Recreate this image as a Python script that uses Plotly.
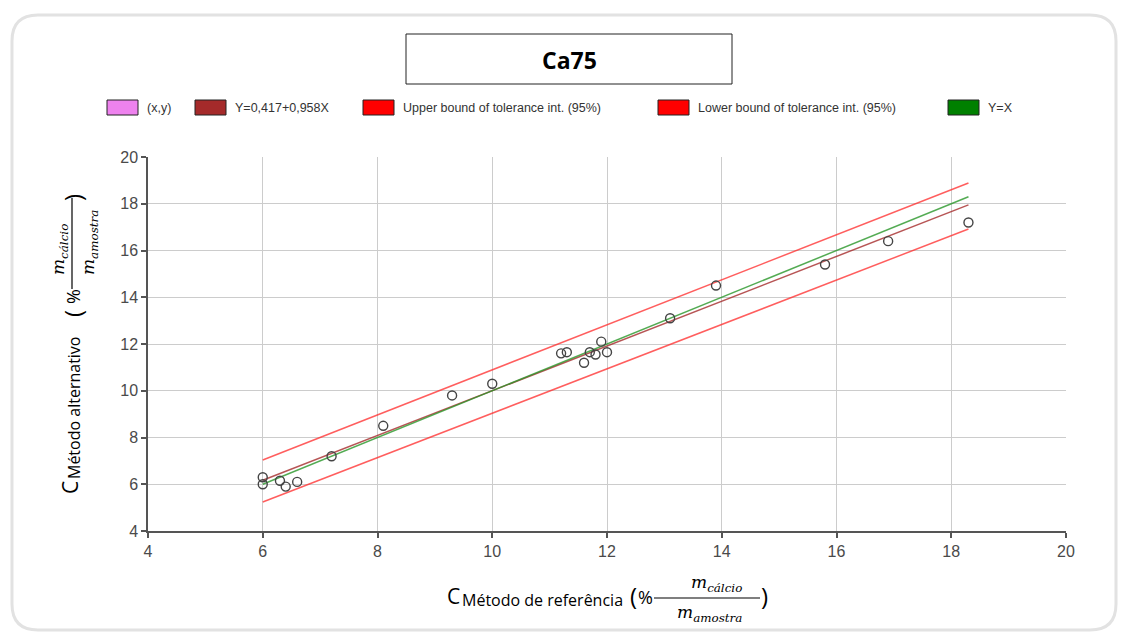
import plotly.graph_objects as go

# ---------------- data ----------------
ref_x = [6.0, 6.0, 6.3, 6.4, 6.6, 7.2, 8.1, 9.3, 10.0, 11.2, 11.3, 11.6, 11.7,
         11.8, 11.9, 12.0, 13.1, 13.9, 15.8, 16.9, 18.3]
alt_y = [6.3, 6.0, 6.15, 5.9, 6.1, 7.2, 8.5, 9.8, 10.3, 11.6, 11.65, 11.2, 11.65,
         11.55, 12.1, 11.65, 13.1, 14.5, 15.4, 16.4, 17.2]

line_x = [6.0, 18.3]
fit_y = [6.17, 17.95]          # Y=0,417+0,958X
upper_y = [7.04, 18.89]        # upper bound of tolerance interval
lower_y = [5.24, 16.92]        # lower bound of tolerance interval
identity_y = [6.0, 18.3]       # Y=X

legend_labels = ["(x,y)", "Y=0,417+0,958X", "Upper bound of tolerance int. (95%)",
                 "Lower bound of tolerance int. (95%)", "Y=X"]
legend_colors = ["#EE82EE", "#A52A2A", "#FF0000", "#FF0000", "#008000"]

x_ticks = [4, 6, 8, 10, 12, 14, 16, 18, 20]
y_ticks = [4, 6, 8, 10, 12, 14, 16, 18, 20]
title_text = "Ca75"

# ---------------- layout geometry ----------------
W, H = 1123, 633
PL, PR, PT, PB = 148, 1066, 157, 531


def px(x):
    return (x - PL) / (PR - PL)


def py(y):
    return (PB - y) / (PB - PT)


fig = go.Figure()

fig.add_trace(go.Scatter(x=line_x, y=upper_y, mode="lines",
                         line=dict(color="rgba(255,40,40,0.75)", width=1.5),
                         name=legend_labels[2], showlegend=False))
fig.add_trace(go.Scatter(x=line_x, y=lower_y, mode="lines",
                         line=dict(color="rgba(255,40,40,0.75)", width=1.5),
                         name=legend_labels[3], showlegend=False))
fig.add_trace(go.Scatter(x=line_x, y=fit_y, mode="lines",
                         line=dict(color="rgba(165,42,42,0.8)", width=1.5),
                         name=legend_labels[1], showlegend=False))
fig.add_trace(go.Scatter(x=line_x, y=identity_y, mode="lines",
                         line=dict(color="rgba(40,150,40,0.8)", width=1.5),
                         name=legend_labels[4], showlegend=False))
fig.add_trace(go.Scatter(x=ref_x, y=alt_y, mode="markers",
                         marker=dict(symbol="circle-open", size=9, color="#444444",
                                     line=dict(width=1.4, color="#444444")),
                         name=legend_labels[0], showlegend=False))

shapes = []
annotations = []

# outer rounded frame
r = 26
x0, y0, x1, y1 = 12, 15, 1116, 630


def P(x, y):
    return f"{px(x):.5f},{py(y):.5f}"


path = (f"M {P(x0 + r, y0)} L {P(x1 - r, y0)} Q {P(x1, y0)} {P(x1, y0 + r)} "
        f"L {P(x1, y1 - r)} Q {P(x1, y1)} {P(x1 - r, y1)} L {P(x0 + r, y1)} "
        f"Q {P(x0, y1)} {P(x0, y1 - r)} L {P(x0, y0 + r)} Q {P(x0, y0)} {P(x0 + r, y0)} Z")
shapes.append(dict(type="path", xref="paper", yref="paper", path=path,
                   line=dict(color="#e2e2e2", width=3), layer="below"))

# title box
shapes.append(dict(type="rect", xref="paper", yref="paper",
                   x0=px(406), x1=px(732), y0=py(84), y1=py(34),
                   line=dict(color="#222222", width=1), fillcolor="white"))
annotations.append(dict(text=f"<b>{title_text}</b>", x=px(569), y=py(60),
                        xanchor="center", yanchor="middle",
                        font=dict(family="Open Sans, Liberation Sans, sans-serif", size=23, color="#000000")))

# manual legend
sw_x = [107, 195, 363, 658, 948]
for lab, col, sx in zip(legend_labels, legend_colors, sw_x):
    shapes.append(dict(type="rect", xref="paper", yref="paper",
                       x0=px(sx), x1=px(sx + 31), y0=py(115), y1=py(100),
                       line=dict(color="#222222", width=1), fillcolor=col))
    annotations.append(dict(text=lab, x=px(sx + 38), y=py(107.5), xanchor="left", yanchor="middle",
                            font=dict(family="Liberation Sans Narrow, Arial Narrow, Liberation Sans, sans-serif",
                                      size=12.5, color="#333333")))

# x axis title (built from pieces to mimic the fraction)
tf = "Open Sans, Liberation Sans, sans-serif"
mf = "DejaVu Serif, Liberation Serif, serif"
annotations += [
    dict(text="C", x=px(445), y=py(596), xanchor="left", yanchor="middle",
         font=dict(family=tf, size=21, color="#000")),
    dict(text="Método de referência", x=px(460), y=py(600), xanchor="left", yanchor="middle",
         font=dict(family=tf, size=16, color="#000")),
    dict(text="(", x=px(628), y=py(595), xanchor="left", yanchor="middle",
         font=dict(family=tf, size=24, color="#000")),
    dict(text="%", x=px(636), y=py(597), xanchor="left", yanchor="middle",
         font=dict(family=tf, size=18, color="#000")),
    dict(text="<i>m<sub>cálcio</sub></i>", x=px(716), y=py(583), xanchor="center", yanchor="middle",
         font=dict(family=mf, size=17, color="#000")),
    dict(text="<i>m<sub>amostra</sub></i>", x=px(709), y=py(613), xanchor="center", yanchor="middle",
         font=dict(family=mf, size=17, color="#000")),
    dict(text=")", x=px(759), y=py(595), xanchor="left", yanchor="middle",
         font=dict(family=tf, size=24, color="#000")),
]
shapes.append(dict(type="line", xref="paper", yref="paper",
                   x0=px(654), x1=px(760), y0=py(598), y1=py(598),
                   line=dict(color="#000", width=1.2)))

# y axis title (rotated)
annotations += [
    dict(text="C", x=px(70), y=py(488), xanchor="center", yanchor="middle", textangle=-90,
         font=dict(family=tf, size=21, color="#000")),
    dict(text="Método alternativo", x=px(74), y=py(408), xanchor="center", yanchor="middle", textangle=-90,
         font=dict(family=tf, size=16, color="#000")),
    dict(text="(", x=px(72), y=py(314), xanchor="center", yanchor="middle", textangle=-90,
         font=dict(family=tf, size=24, color="#000")),
    dict(text="%", x=px(73), y=py(297), xanchor="center", yanchor="middle", textangle=-90,
         font=dict(family=tf, size=18, color="#000")),
    dict(text="<i>m<sub>cálcio</sub></i>", x=px(59), y=py(250), xanchor="center", yanchor="middle", textangle=-90,
         font=dict(family=mf, size=17, color="#000")),
    dict(text="<i>m<sub>amostra</sub></i>", x=px(89), y=py(243), xanchor="center", yanchor="middle", textangle=-90,
         font=dict(family=mf, size=17, color="#000")),
    dict(text=")", x=px(72), y=py(198), xanchor="center", yanchor="middle", textangle=-90,
         font=dict(family=tf, size=24, color="#000")),
]
shapes.append(dict(type="line", xref="paper", yref="paper",
                   x0=px(72), x1=px(72), y0=py(289), y1=py(198),
                   line=dict(color="#000", width=1.2)))

for a in annotations:
    a.setdefault("xref", "paper")
    a.setdefault("yref", "paper")
    a.setdefault("showarrow", False)

tick_font = dict(family="Liberation Sans Narrow, Arial Narrow, Liberation Sans, sans-serif",
                 size=16, color="#4a4a4a")
axis_common = dict(showgrid=True, gridcolor="#cccccc", gridwidth=1,
                   showline=True, linecolor="#555555", linewidth=1.5,
                   ticks="outside", ticklen=5, tickcolor="#555555", tickwidth=1.5,
                   zeroline=False, tickfont=tick_font, tickmode="array")

fig.update_layout(
    width=W, height=H,
    margin=dict(l=PL, r=W - PR, t=PT, b=H - PB),
    paper_bgcolor="white", plot_bgcolor="white",
    showlegend=False,
    xaxis=dict(range=[4, 20], tickvals=x_ticks, ticktext=[str(v) for v in x_ticks], **axis_common),
    yaxis=dict(range=[4, 20], tickvals=y_ticks, ticktext=[str(v) for v in y_ticks], **axis_common),
    shapes=shapes,
    annotations=annotations,
)

fig.write_html("out.html", config={"displayModeBar": False},
               post_script="document.body.style.margin='0';document.body.style.overflow='hidden';")
